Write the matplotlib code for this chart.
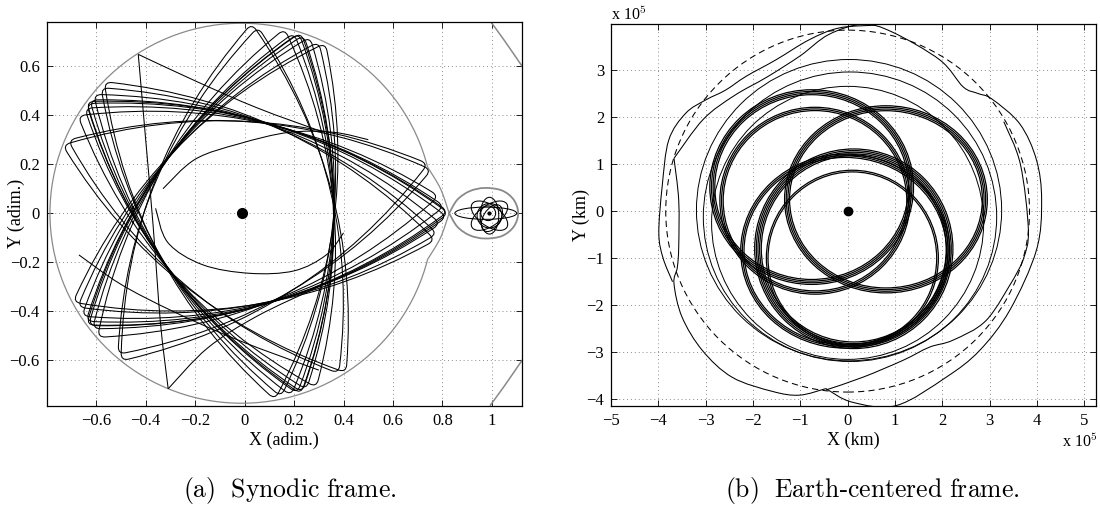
import numpy as np
import matplotlib
matplotlib.use("Agg")
import matplotlib.pyplot as plt
from matplotlib.path import Path
from matplotlib.patches import PathPatch, Ellipse, Circle, Arc
from matplotlib.ticker import FuncFormatter

# ---------------- (a) synodic frame, adimensional units ----------------
earth_xy = (-0.012, 0.0)
moon_xy = (0.988, 0.0)
zvc_radius = 0.775                       # Hill region boundary round the Earth
zvc_neck_x = [0.740, 0.792, 0.827]       # pinch towards L1
zvc_neck_y = [0.188, 0.100, 0.0]
moon_zvc_x = [0.827, 0.86, 0.91, 0.97, 1.04, 1.088, 1.106, 1.088, 1.04, 0.97, 0.91, 0.86, 0.827]
moon_zvc_y = [0.0, 0.055, 0.09, 0.103, 0.093, 0.055, 0.0, -0.055, -0.093, -0.103, -0.09, -0.055, 0.0]
outer_zvc_x = [0.992, 1.05, 1.125]
outer_zvc_y = [0.785, 0.705, 0.595]

# five-cornered resonant loops: orientation of the corner near L1 (deg),
# distance of that corner and of the other corners from the Earth
loop_phase = [-8, -6, -3, -1, 0, 0.5, 2, 5, 13, 15]
loop_tip_r = [0.79, 0.795, 0.805, 0.83, 0.837, 0.835, 0.82, 0.80, 0.787, 0.78]
loop_r = [0.772, 0.765, 0.77, 0.768, 0.775, 0.77, 0.765, 0.772, 0.762, 0.775]

# pieces of trajectory touching the boundary with cusps, and inner arcs
cusp_top_x = [0.32, 0.05, -0.2, -0.43]
cusp_top_y = [0.33, 0.43, 0.54, 0.648]
cusp_mid_x = [-0.43, -0.40, -0.37, -0.34, -0.309]
cusp_mid_y = [0.648, 0.30, -0.05, -0.45, -0.716]
cusp_bot_x = [-0.309, -0.15, 0.05, 0.30]
cusp_bot_y = [-0.716, -0.55, -0.42, -0.30]
start_x = [-0.67, -0.50, -0.29, -0.02, 0.30]
start_y = [-0.17, -0.29, -0.40, -0.52, -0.64]
inner1_x = [-0.36, -0.31, -0.17, 0.02, 0.20, 0.33, 0.40]
inner1_y = [0.02, -0.12, -0.21, -0.245, -0.235, -0.17, -0.08]
inner2_x = [-0.33, -0.20, -0.02, 0.18, 0.36, 0.50]
inner2_y = [0.10, 0.22, 0.284, 0.33, 0.33, 0.30]

# loops round the Moon: centre x, centre y, width, height, angle
moon_loop_cx = [0.975, 0.99, 0.99, 0.99, 0.985, 0.99, 1.0]
moon_loop_cy = [0.0, -0.01, -0.01, -0.01, 0.0, -0.01, -0.02]
moon_loop_w = [0.25, 0.17, 0.17, 0.15, 0.06, 0.10, 0.12]
moon_loop_h = [0.05, 0.085, 0.085, 0.075, 0.06, 0.10, 0.07]
moon_loop_a = [0, 35, -35, 90, 0, 0, 60]

# ---------------- (b) Earth-centred frame, units of 1e5 km ----------------
moon_orbit_r = 3.844
ring_cx = [-0.76, -0.69, 0.81, 0.13, -0.05, 0.10, 0.03, 0.05, 0.0]
ring_cy = [0.51, 0.22, 0.25, -0.80, -0.85, -1.00, 0.02, -0.12, -0.25]
ring_w = [4.20, 3.95, 4.18, 4.05, 4.35, 3.60, 6.45, 6.20, 5.75]
ring_h = [4.03, 3.90, 3.87, 4.10, 4.05, 3.70, 6.40, 6.15, 5.80]
ring_n = [4, 3, 4, 5, 3, 2, 1, 1, 1]

outer1_x = [-3.67, -3.05, -2.4, -1.7, -1.0, -0.4, 0.32, 0.95, 1.95, 2.44, 2.75, 3.05, 3.64,
            3.99, 4.1, 3.99, 3.43, 2.79, 2.08, 1.03, 0.1, -0.46]
outer1_y = [1.12, 1.95, 2.45, 2.85, 3.3, 3.75, 3.97, 3.8, 3.21, 2.64, 2.5, 2.38, 1.85,
            1.09, 0.23, -0.83, -2.1, -2.96, -3.53, -4.13, -4.06, -3.77]
outer2_x = [-0.46, -1.02, -1.59, -2.44, -3.07, -3.5, -3.67, -3.6, -3.57, -3.57, -3.67]
outer2_y = [-3.77, -3.91, -3.83, -3.53, -2.96, -2.25, -1.54, -1.2, -0.76, 0.23, 1.12]
outer3_x = [0.6, -0.18, -0.81, -1.52, -2.15, -2.58, -3.0, -3.42, -3.78, -3.92, -3.99, -3.9, -3.7]
outer3_y = [3.95, 3.89, 3.64, 3.21, 2.86, 2.57, 2.36, 2.08, 1.51, 0.52, -0.47, -1.0, -1.5]
outer4_x = [3.3, 3.65, 3.82, 3.72, 3.52]
outer4_y = [1.9, 1.0, -0.4, -1.0, -1.42]
outer5_x = [3.52, 2.93, 2.23, 1.73, 1.17, 0.32, -0.46]
outer5_y = [-1.42, -2.32, -2.74, -2.89, -3.17, -3.53, -3.80]

EDGE_BULGE = 0.27
CORNER_T = 0.02


def smooth_path(xs, ys, closed=False):
    p = np.c_[xs, ys].astype(float)
    ext = np.vstack([p[-1], p, p[0], p[1]]) if closed else np.vstack([p[0], p, p[-1]])
    verts, codes = [ext[1]], [Path.MOVETO]
    for i in range(1, len(ext) - 2):
        p0, p1, p2, p3 = ext[i - 1], ext[i], ext[i + 1], ext[i + 2]
        verts += [p1 + (p2 - p0) / 6, p2 - (p3 - p1) / 6, p2]
        codes += [Path.CURVE4] * 3
    return Path(verts, codes)


def bez(P, t):
    return (1 - t) ** 2 * P[0] + 2 * t * (1 - t) * P[1] + t ** 2 * P[2]


def star_loop(phase, r_tip, r):
    ang = np.radians(phase + 144 * np.arange(5))
    rad = np.array([r_tip, r, r, r, r])
    C = np.array(earth_xy) + np.c_[rad * np.cos(ang), rad * np.sin(ang)]
    edges = []
    for k in range(5):
        P0, P2 = C[k], C[(k + 1) % 5]
        a = ang[k] + np.radians(72)
        P1 = (P0 + P2) / 2 + EDGE_BULGE * np.array([np.cos(a), np.sin(a)])
        edges.append((P0, P1, P2))
    t0, t1 = CORNER_T, 1 - CORNER_T
    verts, codes = [bez(edges[0], t0)], [Path.MOVETO]
    for k in range(5):
        P0, P1, P2 = edges[k]
        ctrl = (1 - t0) * (1 - t1) * P0 + ((1 - t0) * t1 + t0 * (1 - t1)) * P1 + t0 * t1 * P2
        verts += [ctrl, bez(edges[k], t1)]
        nxt = edges[(k + 1) % 5]
        verts += [C[(k + 1) % 5], bez(nxt, t0)]
        codes += [Path.CURVE3] * 4
    return Path(verts, codes)


plt.rcParams['font.family'] = ['Liberation Serif', 'DejaVu Serif']
plt.rcParams['mathtext.fontset'] = 'cm'
fig = plt.figure(figsize=(11, 5.08), dpi=100)
ax1 = fig.add_axes([0.0425, 0.2014, 0.4317, 0.7553])
ax2 = fig.add_axes([0.5555, 0.2008, 0.4409, 0.7525])

GRAY = '#8a8a8a'
fmt = FuncFormatter(lambda v, p: ('%g' % round(v, 6)).replace('-', '\u2212'))
for ax in (ax1, ax2):
    ax.grid(True, color='0.55', linestyle=(0, (1, 3)), linewidth=0.7)
    ax.set_axisbelow(True)
    ax.tick_params(direction='in', top=True, right=True, length=4, width=0.6,
                   labelsize=12, pad=5)
    for s in ax.spines.values():
        s.set_linewidth(0.9)
    ax.xaxis.set_major_formatter(fmt)
    ax.yaxis.set_major_formatter(fmt)

# ---- panel (a)
ax1.add_patch(Arc(earth_xy, 2 * zvc_radius, 2 * zvc_radius, theta1=14, theta2=346,
                  color=GRAY, lw=0.9))
for sgn in (1, -1):
    ax1.add_patch(PathPatch(smooth_path(zvc_neck_x, sgn * np.array(zvc_neck_y)),
                            fill=False, ec=GRAY, lw=0.9))
    ax1.add_patch(PathPatch(smooth_path(outer_zvc_x, sgn * np.array(outer_zvc_y)),
                            fill=False, ec=GRAY, lw=1.1))
ax1.add_patch(PathPatch(smooth_path(moon_zvc_x, moon_zvc_y), fill=False, ec=GRAY, lw=1.3))

for ph, rt, r in zip(loop_phase, loop_tip_r, loop_r):
    ax1.add_patch(PathPatch(star_loop(ph, rt, r), fill=False, ec='black', lw=0.75))
for xs, ys in [(cusp_top_x, cusp_top_y), (cusp_mid_x, cusp_mid_y),
               (cusp_bot_x, cusp_bot_y), (start_x, start_y),
               (inner1_x, inner1_y), (inner2_x, inner2_y)]:
    ax1.add_patch(PathPatch(smooth_path(xs, ys), fill=False, ec='black', lw=0.75))
for cx, cy, w, h, a in zip(moon_loop_cx, moon_loop_cy, moon_loop_w, moon_loop_h, moon_loop_a):
    ax1.add_patch(Ellipse((cx, cy), w, h, angle=a, fill=False, ec='black', lw=0.75))

ax1.plot(*earth_xy, 'o', color='black', ms=7)
ax1.plot(*moon_xy, 'o', color='black', ms=2)
ax1.set_xlim(-0.8, 1.12)
ax1.set_ylim(-0.785, 0.78)
ax1.set_xticks(np.round(np.arange(-0.6, 1.01, 0.2), 1))
ax1.set_yticks(np.round(np.arange(-0.6, 0.61, 0.2), 1))
ax1.set_xlabel('X (adim.)', fontsize=13)
ax1.set_ylabel('Y (adim.)', fontsize=13)
ax1.xaxis.set_label_coords(0.5, -0.068)
ax1.yaxis.set_label_coords(-0.046, 0.5)

# ---- panel (b)
ax2.add_patch(Circle((0, 0), moon_orbit_r, fill=False, ec='black', lw=0.75,
                     linestyle=(0, (6, 4))))
for cx, cy, w, h, n in zip(ring_cx, ring_cy, ring_w, ring_h, ring_n):
    for j in range(n):
        d = (j - (n - 1) / 2) * 0.07
        ax2.add_patch(Ellipse((cx, cy), w + d, h + d, fill=False, ec='black',
                              lw=0.9 if n > 1 else 0.7))
for xs, ys in [(outer1_x, outer1_y), (outer2_x, outer2_y), (outer3_x, outer3_y),
               (outer4_x, outer4_y), (outer5_x, outer5_y)]:
    ax2.add_patch(PathPatch(smooth_path(xs, ys), fill=False, ec='black', lw=0.75))
ax2.plot(0, 0, 'o', color='black', ms=6)
ax2.set_xlim(-5, 5.25)
ax2.set_ylim(-4.14, 3.98)
ax2.set_xticks(range(-5, 6))
ax2.set_yticks(range(-4, 4))
ax2.set_xlabel('X (km)', fontsize=13)
ax2.set_ylabel('Y (km)', fontsize=13)
ax2.xaxis.set_label_coords(0.5, -0.068)
ax2.yaxis.set_label_coords(-0.043, 0.5)
fig.text(611 / 1100, 1 - 15 / 508, r'x 10$^5$', fontsize=11.5, ha='left', va='center')
fig.text(1098 / 1100, 1 - 442 / 508, r'x 10$^5$', fontsize=11.5, ha='right', va='center')

fig.text(0.2636, 0.0354, r'$\mathrm{(a)\ \ Synodic\ frame.}$', fontsize=18.5,
         ha='center', va='center')
fig.text(0.793, 0.0354, r'$\mathrm{(b)\ \ Earth}$-$\mathrm{centered\ frame.}$', fontsize=18.5,
         ha='center', va='center')

fig.savefig('out.png', dpi=100)
